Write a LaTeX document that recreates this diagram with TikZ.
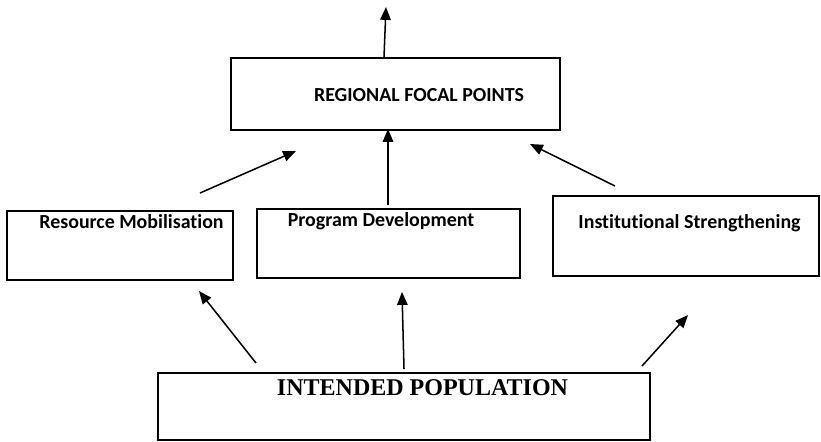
\documentclass[tikz,border=0pt]{standalone}
\usepackage{fontspec}
\setmainfont[Ligatures=NoCommon]{Carlito}
\newfontfamily\serifbold{Liberation Serif}
\usepackage{tikz}
\usetikzlibrary{arrows.meta}

\begin{document}
\begin{tikzpicture}[x=0.03cm,y=-0.03cm,
  box/.style={shape=rectangle,draw=black,line width=1.3pt,inner sep=0pt},
  lbl/.style={font=\fontsize{17}{20}\selectfont\bfseries,inner sep=0pt},
  arr/.style={line width=1.3pt,-{Triangle[length=11pt,width=9pt]}}]
\useasboundingbox (0,0) rectangle (821,441);
% boxes
\node[box,minimum width=9.87cm,minimum height=2.16cm] (R) at (395.5,94) {};
\node[box,minimum width=6.78cm,minimum height=2.07cm] (M) at (120,245.5) {};
\node[box,minimum width=7.89cm,minimum height=2.07cm] (P) at (388.5,243.5) {};
\node[box,minimum width=7.98cm,minimum height=2.4cm] (S) at (686,236) {};
\node[box,minimum width=14.76cm,minimum height=2.01cm] (I) at (404,406.5) {};
% texts
\node[lbl] (Rt) at (419,95) {REGIONAL FOCAL POINTS};
\node[lbl] (Mt) at (131.5,222) {Resource Mobilisation};
\node[lbl] (Pt) at (381,221) {Program Development};
\node[lbl] (St) at (689.5,223) {Institutional Strengthening};
\node[font=\serifbold\fontsize{20.5}{24}\selectfont\bfseries,inner sep=0pt] (It) at (422.5,388) {INTENDED POPULATION};
% arrow ends
\coordinate (r1) at (384,57);   \coordinate (r2) at (386,7);
\coordinate (m1) at (200,193);  \coordinate (m2) at (296,151);
\coordinate (p1) at (388,205);  \coordinate (p2) at (388,129);
\coordinate (s1) at (615,186);  \coordinate (s2) at (530,144);
\coordinate (i1) at (256,363);  \coordinate (i2) at (199,291);
\coordinate (i3) at (404,369);  \coordinate (i4) at (402,292);
\coordinate (i5) at (642,366);  \coordinate (i6) at (688,315);
\path [arr] (r1) edge (r2);
\path [arr] (m1) edge (m2);
\path [arr] (p1) edge (p2);
\path [arr] (s1) edge (s2);
\path [arr] (i1) edge (i2);
\path [arr] (i3) edge (i4);
\path [arr] (i5) edge (i6);
\end{tikzpicture}
\end{document}
